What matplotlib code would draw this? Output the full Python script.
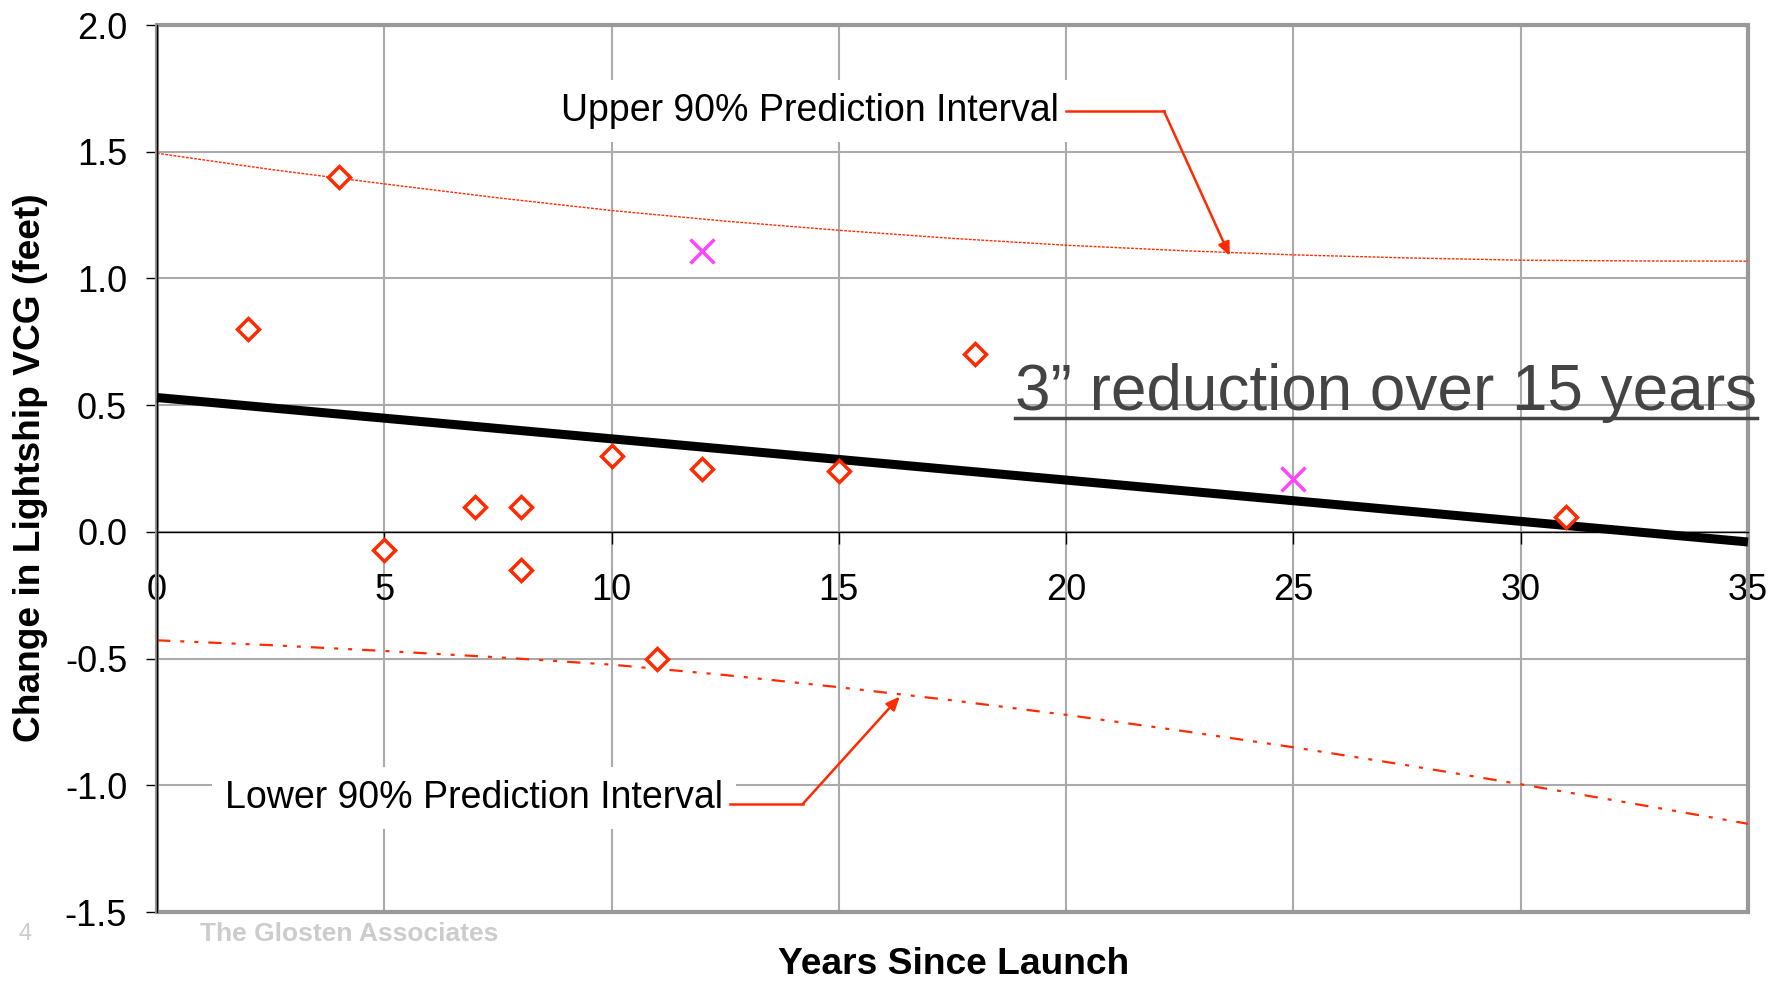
import numpy as np
import matplotlib
matplotlib.use('Agg')
import matplotlib.pyplot as plt
from matplotlib.patches import Rectangle
from matplotlib.lines import Line2D

plt.rcParams['font.family'] = ['Liberation Sans', 'DejaVu Sans']

# vessels: years since launch vs change in lightship VCG (ft)
years = [2, 4, 5, 7, 8, 8, 10, 11, 12, 15, 18, 31]
vcg_change = [0.80, 1.40, -0.07, 0.10, 0.10, -0.15, 0.30, -0.50, 0.25, 0.24, 0.70, 0.06]

# excluded points (magenta x)
years_x = [12, 25]
vcg_x = [1.11, 0.21]

# regression line end points
fit_years = [0, 35]
fit_vcg = [0.53, -0.04]

# 90% prediction interval
pi_years = [0, 2.5, 5, 7.5, 10, 12.5, 15, 17.5, 20, 22.5, 25, 27.5, 30, 32.5, 35]
pi_upper = [1.494, 1.430, 1.373, 1.318, 1.268, 1.226, 1.190, 1.158, 1.131, 1.110,
            1.093, 1.081, 1.072, 1.069, 1.068]
pi_lower = [-0.428, -0.447, -0.470, -0.495, -0.524, -0.565, -0.613, -0.665, -0.722,
            -0.784, -0.850, -0.921, -0.996, -1.073, -1.152]

x_ticks = [0, 5, 10, 15, 20, 25, 30, 35]
y_ticks = [-1.5, -1.0, -0.5, 0.0, 0.5, 1.0, 1.5, 2.0]
y_tick_labels = ['-1.5', '-1.0', '-0.5', '0.0', '0.5', '1.0', '1.5', '2.0']

RED = '#ff2a00'
GRID = '#aaaaaa'

W, H = 1788, 985
fig = plt.figure(figsize=(W / 100, H / 100), dpi=100)
ax = fig.add_axes([157 / W, (H - 912) / H, (1748 - 157) / W, (912 - 25) / H])

ax.set_xlim(0, 35)
ax.set_ylim(-1.5, 2.0)
ax.set_xticks(x_ticks)
ax.set_yticks(y_ticks)
ax.set_yticklabels(y_tick_labels)
ax.grid(True, color=GRID, lw=1.5, zorder=0)
ax.set_axisbelow(True)

# frame in gray, value axes in black
for s in ['top', 'right']:
    ax.spines[s].set_visible(False)
ax.spines['left'].set_color('black')
ax.spines['left'].set_linewidth(1)
ax.spines['bottom'].set_position(('data', 0))
ax.spines['bottom'].set_color('black')
ax.spines['bottom'].set_linewidth(1)
ax.add_patch(Rectangle((0, 0), 1, 1, transform=ax.transAxes, fill=False,
                       edgecolor='#999999', lw=3, clip_on=False, zorder=1))

ax.tick_params(axis='x', direction='out', length=8.5, width=1, pad=21, labelsize=26)
ax.tick_params(axis='y', direction='out', length=8, width=1, pad=13.5, labelsize=26)

# prediction interval lines
ax.plot(pi_years, pi_upper, color=RED, lw=1.0, ls=(0, (2, 1)), zorder=2)
ax.plot(pi_years, pi_lower, color=RED, lw=1.6, zorder=2,
        dashes=(6, 4.5, 1.8, 4.5, 1.8, 4.5))

# regression line
ax.plot(fit_years, fit_vcg, color='black', lw=6.5, zorder=3, clip_on=False,
        solid_capstyle='butt')

ax.plot(years, vcg_change, ls='none', marker='D', ms=11.5, mfc='white',
        mec=RED, mew=2.5, zorder=4)
ax.plot(years_x, vcg_x, ls='none', marker='x', ms=17, mec='#ff44ff', mew=2.5,
        zorder=4)

# labels with leader lines
box = dict(boxstyle='square,pad=0.35', facecolor='white', edgecolor='none')
ax.text(19.85, 1.661, 'Upper 90% Prediction Interval', fontsize=27, ha='right',
        va='center', bbox=box, zorder=5)
ax.plot([20.0, 22.15], [1.661, 1.661], color=RED, lw=1.8, zorder=6)
ax.annotate('', xy=(23.6, 1.089), xytext=(22.15, 1.661),
            arrowprops=dict(arrowstyle='-|>,head_length=0.8,head_width=0.35',
                            color=RED, lw=1.8, shrinkA=0, shrinkB=0), zorder=6)

ax.text(12.45, -1.05, 'Lower 90% Prediction Interval', fontsize=27, ha='right',
        va='center', bbox=box, zorder=5)
ax.plot([12.6, 14.21], [-1.073, -1.073], color=RED, lw=1.8, zorder=6)
ax.annotate('', xy=(16.34, -0.65), xytext=(14.21, -1.073),
            arrowprops=dict(arrowstyle='-|>,head_length=0.8,head_width=0.35',
                            color=RED, lw=1.8, shrinkA=0, shrinkB=0), zorder=6)

t = ax.text(18.87, 0.481, '3\u201d reduction over 15 years', fontsize=46,
            color='#444444', ha='left', va='baseline', clip_on=False, zorder=6)

fig.text(954 / W, 1 - 965 / H, 'Years Since Launch', fontsize=26.7,
         fontweight='bold', ha='center', va='center')
fig.text(31 / W, 1 - 468 / H, 'Change in Lightship VCG (feet)', fontsize=26.7,
         fontweight='bold', rotation=90, ha='center', va='center')

fig.text(25 / W, 1 - 934 / H, '4', fontsize=17, color='#cccccc',
         ha='center', va='center')
fig.text(200 / W, 1 - 934 / H, 'The Glosten Associates', fontsize=19,
         color='#cccccc', fontweight='bold', ha='left', va='center')

# underline the reduction text
fig.canvas.draw()
bb = t.get_window_extent(fig.canvas.get_renderer())
fig.add_artist(Line2D([bb.x0 / W, bb.x1 / W], [(H - 418) / H, (H - 418) / H],
                      transform=fig.transFigure, color='#444444', lw=2.5))

fig.savefig('out.png', dpi=100)
